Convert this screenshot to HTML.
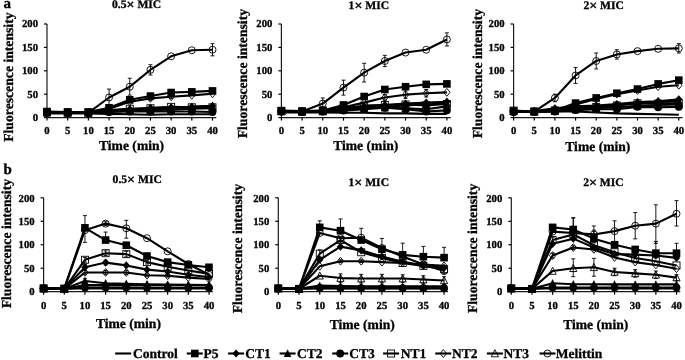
<!DOCTYPE html><html><head><meta charset="utf-8"><style>html,body{margin:0;padding:0;background:#fff;width:685px;height:360px;overflow:hidden}svg{display:block;will-change:transform}text{text-rendering:geometricPrecision;font-family:"Liberation Serif",serif;font-weight:bold;fill:#000}.tk{font-size:10.7px;stroke:#000;stroke-width:0.3px}.ti{font-size:11.6px;stroke:#000;stroke-width:0.3px}.lb{font-size:13.6px;stroke:#000;stroke-width:0.3px}.pl{font-size:15px;stroke:#000;stroke-width:0.3px}.yl{font-size:13.7px}.lg{font-size:13.5px;stroke:#000;stroke-width:0.3px}</style></head><body>
<svg width="685" height="360" viewBox="0 0 685 360">
<rect width="685" height="360" fill="#fff"/>
<text x="3.6" y="7.8" class="pl">a</text>
<text x="3.6" y="173.6" class="pl">b</text>
<line x1="47.0" y1="24.0" x2="47.0" y2="117.6" stroke="#1a1a1a" stroke-width="1.2"/>
<line x1="47.0" y1="117.6" x2="216.3" y2="117.6" stroke="#1a1a1a" stroke-width="1.2"/>
<line x1="44.0" y1="117.60" x2="47.0" y2="117.60" stroke="#000" stroke-width="1.2"/>
<text x="38.00" y="120.90" text-anchor="end" class="tk">0</text>
<line x1="44.0" y1="94.20" x2="47.0" y2="94.20" stroke="#000" stroke-width="1.2"/>
<text x="38.00" y="97.50" text-anchor="end" class="tk">50</text>
<line x1="44.0" y1="70.80" x2="47.0" y2="70.80" stroke="#000" stroke-width="1.2"/>
<text x="38.00" y="74.10" text-anchor="end" class="tk">100</text>
<line x1="44.0" y1="47.40" x2="47.0" y2="47.40" stroke="#000" stroke-width="1.2"/>
<text x="38.00" y="50.70" text-anchor="end" class="tk">150</text>
<line x1="44.0" y1="24.00" x2="47.0" y2="24.00" stroke="#000" stroke-width="1.2"/>
<text x="38.00" y="27.30" text-anchor="end" class="tk">200</text>
<line x1="47.00" y1="117.6" x2="47.00" y2="120.6" stroke="#000" stroke-width="1.2"/>
<text x="47.00" y="134.40" text-anchor="middle" class="tk">0</text>
<line x1="67.69" y1="117.6" x2="67.69" y2="120.6" stroke="#000" stroke-width="1.2"/>
<text x="67.69" y="134.40" text-anchor="middle" class="tk">5</text>
<line x1="88.38" y1="117.6" x2="88.38" y2="120.6" stroke="#000" stroke-width="1.2"/>
<text x="88.38" y="134.40" text-anchor="middle" class="tk">10</text>
<line x1="109.06" y1="117.6" x2="109.06" y2="120.6" stroke="#000" stroke-width="1.2"/>
<text x="109.06" y="134.40" text-anchor="middle" class="tk">15</text>
<line x1="129.75" y1="117.6" x2="129.75" y2="120.6" stroke="#000" stroke-width="1.2"/>
<text x="129.75" y="134.40" text-anchor="middle" class="tk">20</text>
<line x1="150.44" y1="117.6" x2="150.44" y2="120.6" stroke="#000" stroke-width="1.2"/>
<text x="150.44" y="134.40" text-anchor="middle" class="tk">25</text>
<line x1="171.12" y1="117.6" x2="171.12" y2="120.6" stroke="#000" stroke-width="1.2"/>
<text x="171.12" y="134.40" text-anchor="middle" class="tk">30</text>
<line x1="191.81" y1="117.6" x2="191.81" y2="120.6" stroke="#000" stroke-width="1.2"/>
<text x="191.81" y="134.40" text-anchor="middle" class="tk">35</text>
<line x1="212.50" y1="117.6" x2="212.50" y2="120.6" stroke="#000" stroke-width="1.2"/>
<text x="212.50" y="134.40" text-anchor="middle" class="tk">40</text>
<text x="112.0" y="8.0" class="ti">0.5<tspan dy="1.4" style="font-size:14px">×</tspan><tspan dy="-1.4"> MIC</tspan></text>
<text x="99.0" y="149.6" class="lb">Time (min)</text>
<text transform="translate(12.8,141.8) rotate(-90)" class="lb yl">Fluorescence intensity</text>
<line x1="281.4" y1="24.0" x2="281.4" y2="117.6" stroke="#1a1a1a" stroke-width="1.2"/>
<line x1="281.4" y1="117.6" x2="450.7" y2="117.6" stroke="#1a1a1a" stroke-width="1.2"/>
<line x1="278.4" y1="117.60" x2="281.4" y2="117.60" stroke="#000" stroke-width="1.2"/>
<text x="272.40" y="120.90" text-anchor="end" class="tk">0</text>
<line x1="278.4" y1="94.20" x2="281.4" y2="94.20" stroke="#000" stroke-width="1.2"/>
<text x="272.40" y="97.50" text-anchor="end" class="tk">50</text>
<line x1="278.4" y1="70.80" x2="281.4" y2="70.80" stroke="#000" stroke-width="1.2"/>
<text x="272.40" y="74.10" text-anchor="end" class="tk">100</text>
<line x1="278.4" y1="47.40" x2="281.4" y2="47.40" stroke="#000" stroke-width="1.2"/>
<text x="272.40" y="50.70" text-anchor="end" class="tk">150</text>
<line x1="278.4" y1="24.00" x2="281.4" y2="24.00" stroke="#000" stroke-width="1.2"/>
<text x="272.40" y="27.30" text-anchor="end" class="tk">200</text>
<line x1="281.40" y1="117.6" x2="281.40" y2="120.6" stroke="#000" stroke-width="1.2"/>
<text x="281.40" y="134.40" text-anchor="middle" class="tk">0</text>
<line x1="302.09" y1="117.6" x2="302.09" y2="120.6" stroke="#000" stroke-width="1.2"/>
<text x="302.09" y="134.40" text-anchor="middle" class="tk">5</text>
<line x1="322.77" y1="117.6" x2="322.77" y2="120.6" stroke="#000" stroke-width="1.2"/>
<text x="322.77" y="134.40" text-anchor="middle" class="tk">10</text>
<line x1="343.46" y1="117.6" x2="343.46" y2="120.6" stroke="#000" stroke-width="1.2"/>
<text x="343.46" y="134.40" text-anchor="middle" class="tk">15</text>
<line x1="364.15" y1="117.6" x2="364.15" y2="120.6" stroke="#000" stroke-width="1.2"/>
<text x="364.15" y="134.40" text-anchor="middle" class="tk">20</text>
<line x1="384.84" y1="117.6" x2="384.84" y2="120.6" stroke="#000" stroke-width="1.2"/>
<text x="384.84" y="134.40" text-anchor="middle" class="tk">25</text>
<line x1="405.52" y1="117.6" x2="405.52" y2="120.6" stroke="#000" stroke-width="1.2"/>
<text x="405.52" y="134.40" text-anchor="middle" class="tk">30</text>
<line x1="426.21" y1="117.6" x2="426.21" y2="120.6" stroke="#000" stroke-width="1.2"/>
<text x="426.21" y="134.40" text-anchor="middle" class="tk">35</text>
<line x1="446.90" y1="117.6" x2="446.90" y2="120.6" stroke="#000" stroke-width="1.2"/>
<text x="446.90" y="134.40" text-anchor="middle" class="tk">40</text>
<text x="348.6" y="8.8" class="ti">1<tspan dy="1.4" style="font-size:14px">×</tspan><tspan dy="-1.4"> MIC</tspan></text>
<text x="333.2" y="150.2" class="lb">Time (min)</text>
<text transform="translate(247.3,138.3) rotate(-90)" class="lb yl">Fluorescence intensity</text>
<line x1="513.6" y1="24.0" x2="513.6" y2="117.6" stroke="#1a1a1a" stroke-width="1.2"/>
<line x1="513.6" y1="117.6" x2="682.5999999999999" y2="117.6" stroke="#1a1a1a" stroke-width="1.2"/>
<line x1="510.6" y1="117.60" x2="513.6" y2="117.60" stroke="#000" stroke-width="1.2"/>
<text x="504.60" y="120.90" text-anchor="end" class="tk">0</text>
<line x1="510.6" y1="94.20" x2="513.6" y2="94.20" stroke="#000" stroke-width="1.2"/>
<text x="504.60" y="97.50" text-anchor="end" class="tk">50</text>
<line x1="510.6" y1="70.80" x2="513.6" y2="70.80" stroke="#000" stroke-width="1.2"/>
<text x="504.60" y="74.10" text-anchor="end" class="tk">100</text>
<line x1="510.6" y1="47.40" x2="513.6" y2="47.40" stroke="#000" stroke-width="1.2"/>
<text x="504.60" y="50.70" text-anchor="end" class="tk">150</text>
<line x1="510.6" y1="24.00" x2="513.6" y2="24.00" stroke="#000" stroke-width="1.2"/>
<text x="504.60" y="27.30" text-anchor="end" class="tk">200</text>
<line x1="513.60" y1="117.6" x2="513.60" y2="120.6" stroke="#000" stroke-width="1.2"/>
<text x="513.60" y="134.40" text-anchor="middle" class="tk">0</text>
<line x1="534.25" y1="117.6" x2="534.25" y2="120.6" stroke="#000" stroke-width="1.2"/>
<text x="534.25" y="134.40" text-anchor="middle" class="tk">5</text>
<line x1="554.90" y1="117.6" x2="554.90" y2="120.6" stroke="#000" stroke-width="1.2"/>
<text x="554.90" y="134.40" text-anchor="middle" class="tk">10</text>
<line x1="575.55" y1="117.6" x2="575.55" y2="120.6" stroke="#000" stroke-width="1.2"/>
<text x="575.55" y="134.40" text-anchor="middle" class="tk">15</text>
<line x1="596.20" y1="117.6" x2="596.20" y2="120.6" stroke="#000" stroke-width="1.2"/>
<text x="596.20" y="134.40" text-anchor="middle" class="tk">20</text>
<line x1="616.85" y1="117.6" x2="616.85" y2="120.6" stroke="#000" stroke-width="1.2"/>
<text x="616.85" y="134.40" text-anchor="middle" class="tk">25</text>
<line x1="637.50" y1="117.6" x2="637.50" y2="120.6" stroke="#000" stroke-width="1.2"/>
<text x="637.50" y="134.40" text-anchor="middle" class="tk">30</text>
<line x1="658.15" y1="117.6" x2="658.15" y2="120.6" stroke="#000" stroke-width="1.2"/>
<text x="658.15" y="134.40" text-anchor="middle" class="tk">35</text>
<line x1="678.80" y1="117.6" x2="678.80" y2="120.6" stroke="#000" stroke-width="1.2"/>
<text x="678.80" y="134.40" text-anchor="middle" class="tk">40</text>
<text x="583.4" y="8.8" class="ti">2<tspan dy="1.4" style="font-size:14px">×</tspan><tspan dy="-1.4"> MIC</tspan></text>
<text x="565.3" y="150.8" class="lb">Time (min)</text>
<text transform="translate(482.0,138.3) rotate(-90)" class="lb yl">Fluorescence intensity</text>
<line x1="43.6" y1="197.8" x2="43.6" y2="291.7" stroke="#1a1a1a" stroke-width="1.2"/>
<line x1="43.6" y1="291.7" x2="212.8" y2="291.7" stroke="#1a1a1a" stroke-width="1.2"/>
<line x1="40.6" y1="291.70" x2="43.6" y2="291.70" stroke="#000" stroke-width="1.2"/>
<text x="34.60" y="295.40" text-anchor="end" class="tk">0</text>
<line x1="40.6" y1="268.23" x2="43.6" y2="268.23" stroke="#000" stroke-width="1.2"/>
<text x="34.60" y="271.93" text-anchor="end" class="tk">50</text>
<line x1="40.6" y1="244.75" x2="43.6" y2="244.75" stroke="#000" stroke-width="1.2"/>
<text x="34.60" y="248.45" text-anchor="end" class="tk">100</text>
<line x1="40.6" y1="221.28" x2="43.6" y2="221.28" stroke="#000" stroke-width="1.2"/>
<text x="34.60" y="224.97" text-anchor="end" class="tk">150</text>
<line x1="40.6" y1="197.80" x2="43.6" y2="197.80" stroke="#000" stroke-width="1.2"/>
<text x="34.60" y="201.50" text-anchor="end" class="tk">200</text>
<line x1="43.60" y1="291.7" x2="43.60" y2="294.7" stroke="#000" stroke-width="1.2"/>
<text x="43.60" y="309.10" text-anchor="middle" class="tk">0</text>
<line x1="64.28" y1="291.7" x2="64.28" y2="294.7" stroke="#000" stroke-width="1.2"/>
<text x="64.28" y="309.10" text-anchor="middle" class="tk">5</text>
<line x1="84.95" y1="291.7" x2="84.95" y2="294.7" stroke="#000" stroke-width="1.2"/>
<text x="84.95" y="309.10" text-anchor="middle" class="tk">10</text>
<line x1="105.62" y1="291.7" x2="105.62" y2="294.7" stroke="#000" stroke-width="1.2"/>
<text x="105.62" y="309.10" text-anchor="middle" class="tk">15</text>
<line x1="126.30" y1="291.7" x2="126.30" y2="294.7" stroke="#000" stroke-width="1.2"/>
<text x="126.30" y="309.10" text-anchor="middle" class="tk">20</text>
<line x1="146.97" y1="291.7" x2="146.97" y2="294.7" stroke="#000" stroke-width="1.2"/>
<text x="146.97" y="309.10" text-anchor="middle" class="tk">25</text>
<line x1="167.65" y1="291.7" x2="167.65" y2="294.7" stroke="#000" stroke-width="1.2"/>
<text x="167.65" y="309.10" text-anchor="middle" class="tk">30</text>
<line x1="188.32" y1="291.7" x2="188.32" y2="294.7" stroke="#000" stroke-width="1.2"/>
<text x="188.32" y="309.10" text-anchor="middle" class="tk">35</text>
<line x1="209.00" y1="291.7" x2="209.00" y2="294.7" stroke="#000" stroke-width="1.2"/>
<text x="209.00" y="309.10" text-anchor="middle" class="tk">40</text>
<text x="112.6" y="182.8" class="ti">0.5<tspan dy="1.4" style="font-size:14px">×</tspan><tspan dy="-1.4"> MIC</tspan></text>
<text x="95.9" y="328.3" class="lb">Time (min)</text>
<text transform="translate(10.8,308.3) rotate(-90)" class="lb yl">Fluorescence intensity</text>
<line x1="278.3" y1="197.8" x2="278.3" y2="291.7" stroke="#1a1a1a" stroke-width="1.2"/>
<line x1="278.3" y1="291.7" x2="447.90000000000003" y2="291.7" stroke="#1a1a1a" stroke-width="1.2"/>
<line x1="275.3" y1="291.70" x2="278.3" y2="291.70" stroke="#000" stroke-width="1.2"/>
<text x="269.30" y="295.40" text-anchor="end" class="tk">0</text>
<line x1="275.3" y1="268.23" x2="278.3" y2="268.23" stroke="#000" stroke-width="1.2"/>
<text x="269.30" y="271.93" text-anchor="end" class="tk">50</text>
<line x1="275.3" y1="244.75" x2="278.3" y2="244.75" stroke="#000" stroke-width="1.2"/>
<text x="269.30" y="248.45" text-anchor="end" class="tk">100</text>
<line x1="275.3" y1="221.28" x2="278.3" y2="221.28" stroke="#000" stroke-width="1.2"/>
<text x="269.30" y="224.97" text-anchor="end" class="tk">150</text>
<line x1="275.3" y1="197.80" x2="278.3" y2="197.80" stroke="#000" stroke-width="1.2"/>
<text x="269.30" y="201.50" text-anchor="end" class="tk">200</text>
<line x1="278.30" y1="291.7" x2="278.30" y2="294.7" stroke="#000" stroke-width="1.2"/>
<text x="278.30" y="309.10" text-anchor="middle" class="tk">0</text>
<line x1="299.03" y1="291.7" x2="299.03" y2="294.7" stroke="#000" stroke-width="1.2"/>
<text x="299.03" y="309.10" text-anchor="middle" class="tk">5</text>
<line x1="319.75" y1="291.7" x2="319.75" y2="294.7" stroke="#000" stroke-width="1.2"/>
<text x="319.75" y="309.10" text-anchor="middle" class="tk">10</text>
<line x1="340.48" y1="291.7" x2="340.48" y2="294.7" stroke="#000" stroke-width="1.2"/>
<text x="340.48" y="309.10" text-anchor="middle" class="tk">15</text>
<line x1="361.20" y1="291.7" x2="361.20" y2="294.7" stroke="#000" stroke-width="1.2"/>
<text x="361.20" y="309.10" text-anchor="middle" class="tk">20</text>
<line x1="381.93" y1="291.7" x2="381.93" y2="294.7" stroke="#000" stroke-width="1.2"/>
<text x="381.93" y="309.10" text-anchor="middle" class="tk">25</text>
<line x1="402.65" y1="291.7" x2="402.65" y2="294.7" stroke="#000" stroke-width="1.2"/>
<text x="402.65" y="309.10" text-anchor="middle" class="tk">30</text>
<line x1="423.38" y1="291.7" x2="423.38" y2="294.7" stroke="#000" stroke-width="1.2"/>
<text x="423.38" y="309.10" text-anchor="middle" class="tk">35</text>
<line x1="444.10" y1="291.7" x2="444.10" y2="294.7" stroke="#000" stroke-width="1.2"/>
<text x="444.10" y="309.10" text-anchor="middle" class="tk">40</text>
<text x="348.5" y="185.5" class="ti">1<tspan dy="1.4" style="font-size:14px">×</tspan><tspan dy="-1.4"> MIC</tspan></text>
<text x="329.7" y="329.1" class="lb">Time (min)</text>
<text transform="translate(242.2,313.3) rotate(-90)" class="lb yl">Fluorescence intensity</text>
<line x1="511.3" y1="197.8" x2="511.3" y2="291.7" stroke="#1a1a1a" stroke-width="1.2"/>
<line x1="511.3" y1="291.7" x2="680.3" y2="291.7" stroke="#1a1a1a" stroke-width="1.2"/>
<line x1="508.3" y1="291.70" x2="511.3" y2="291.70" stroke="#000" stroke-width="1.2"/>
<text x="502.30" y="295.40" text-anchor="end" class="tk">0</text>
<line x1="508.3" y1="268.23" x2="511.3" y2="268.23" stroke="#000" stroke-width="1.2"/>
<text x="502.30" y="271.93" text-anchor="end" class="tk">50</text>
<line x1="508.3" y1="244.75" x2="511.3" y2="244.75" stroke="#000" stroke-width="1.2"/>
<text x="502.30" y="248.45" text-anchor="end" class="tk">100</text>
<line x1="508.3" y1="221.28" x2="511.3" y2="221.28" stroke="#000" stroke-width="1.2"/>
<text x="502.30" y="224.97" text-anchor="end" class="tk">150</text>
<line x1="508.3" y1="197.80" x2="511.3" y2="197.80" stroke="#000" stroke-width="1.2"/>
<text x="502.30" y="201.50" text-anchor="end" class="tk">200</text>
<line x1="511.30" y1="291.7" x2="511.30" y2="294.7" stroke="#000" stroke-width="1.2"/>
<text x="511.30" y="309.10" text-anchor="middle" class="tk">0</text>
<line x1="531.95" y1="291.7" x2="531.95" y2="294.7" stroke="#000" stroke-width="1.2"/>
<text x="531.95" y="309.10" text-anchor="middle" class="tk">5</text>
<line x1="552.60" y1="291.7" x2="552.60" y2="294.7" stroke="#000" stroke-width="1.2"/>
<text x="552.60" y="309.10" text-anchor="middle" class="tk">10</text>
<line x1="573.25" y1="291.7" x2="573.25" y2="294.7" stroke="#000" stroke-width="1.2"/>
<text x="573.25" y="309.10" text-anchor="middle" class="tk">15</text>
<line x1="593.90" y1="291.7" x2="593.90" y2="294.7" stroke="#000" stroke-width="1.2"/>
<text x="593.90" y="309.10" text-anchor="middle" class="tk">20</text>
<line x1="614.55" y1="291.7" x2="614.55" y2="294.7" stroke="#000" stroke-width="1.2"/>
<text x="614.55" y="309.10" text-anchor="middle" class="tk">25</text>
<line x1="635.20" y1="291.7" x2="635.20" y2="294.7" stroke="#000" stroke-width="1.2"/>
<text x="635.20" y="309.10" text-anchor="middle" class="tk">30</text>
<line x1="655.85" y1="291.7" x2="655.85" y2="294.7" stroke="#000" stroke-width="1.2"/>
<text x="655.85" y="309.10" text-anchor="middle" class="tk">35</text>
<line x1="676.50" y1="291.7" x2="676.50" y2="294.7" stroke="#000" stroke-width="1.2"/>
<text x="676.50" y="309.10" text-anchor="middle" class="tk">40</text>
<text x="583.2" y="185.5" class="ti">2<tspan dy="1.4" style="font-size:14px">×</tspan><tspan dy="-1.4"> MIC</tspan></text>
<text x="563.2" y="329.1" class="lb">Time (min)</text>
<text transform="translate(477.4,313.1) rotate(-90)" class="lb yl">Fluorescence intensity</text>
<polyline points="47.00,113.39 67.69,113.39 88.38,113.39 109.06,113.86 129.75,114.32 150.44,114.79 171.12,114.32 191.81,114.32 212.50,114.32" fill="none" stroke="#000" stroke-width="2.1" stroke-linejoin="round"/>
<path d="M129.75 97.94V101.69M127.75 97.94h4M127.75 101.69h4" stroke="#000" stroke-width="0.9" fill="none"/>
<polyline points="47.00,111.52 67.69,111.98 88.38,111.98 109.06,107.77 129.75,99.82 150.44,96.07 171.12,92.52 191.81,91.86 212.50,90.92" fill="none" stroke="#000" stroke-width="2.1" stroke-linejoin="round"/>
<rect x="43.20" y="107.72" width="7.60" height="7.60" fill="#000"/>
<rect x="63.89" y="108.18" width="7.60" height="7.60" fill="#000"/>
<rect x="84.58" y="108.18" width="7.60" height="7.60" fill="#000"/>
<rect x="105.26" y="103.97" width="7.60" height="7.60" fill="#000"/>
<rect x="125.95" y="96.02" width="7.60" height="7.60" fill="#000"/>
<rect x="146.64" y="92.27" width="7.60" height="7.60" fill="#000"/>
<rect x="167.32" y="88.72" width="7.60" height="7.60" fill="#000"/>
<rect x="188.01" y="88.06" width="7.60" height="7.60" fill="#000"/>
<rect x="208.70" y="87.12" width="7.60" height="7.60" fill="#000"/>
<polyline points="47.00,111.98 67.69,112.45 88.38,112.45 109.06,110.58 129.75,109.18 150.44,107.77 171.12,107.30 191.81,106.84 212.50,105.90" fill="none" stroke="#000" stroke-width="2.1" stroke-linejoin="round"/>
<path d="M47.00 107.88L50.70 111.98L47.00 116.08L43.30 111.98Z" fill="#000"/>
<path d="M67.69 108.35L71.39 112.45L67.69 116.55L63.99 112.45Z" fill="#000"/>
<path d="M88.38 108.35L92.08 112.45L88.38 116.55L84.67 112.45Z" fill="#000"/>
<path d="M109.06 106.48L112.76 110.58L109.06 114.68L105.36 110.58Z" fill="#000"/>
<path d="M129.75 105.08L133.45 109.18L129.75 113.28L126.05 109.18Z" fill="#000"/>
<path d="M150.44 103.67L154.14 107.77L150.44 111.87L146.74 107.77Z" fill="#000"/>
<path d="M171.12 103.20L174.82 107.30L171.12 111.40L167.43 107.30Z" fill="#000"/>
<path d="M191.81 102.74L195.51 106.84L191.81 110.94L188.11 106.84Z" fill="#000"/>
<path d="M212.50 101.80L216.20 105.90L212.50 110.00L208.80 105.90Z" fill="#000"/>
<polyline points="47.00,112.45 67.69,112.45 88.38,112.45 109.06,111.05 129.75,109.64 150.44,108.71 171.12,107.77 191.81,106.84 212.50,105.90" fill="none" stroke="#000" stroke-width="2.1" stroke-linejoin="round"/>
<path d="M47.00 108.25L50.80 116.05L43.20 116.05Z" fill="#000"/>
<path d="M67.69 108.25L71.49 116.05L63.89 116.05Z" fill="#000"/>
<path d="M88.38 108.25L92.17 116.05L84.58 116.05Z" fill="#000"/>
<path d="M109.06 106.85L112.86 114.65L105.26 114.65Z" fill="#000"/>
<path d="M129.75 105.44L133.55 113.24L125.95 113.24Z" fill="#000"/>
<path d="M150.44 104.51L154.24 112.31L146.64 112.31Z" fill="#000"/>
<path d="M171.12 103.57L174.93 111.37L167.32 111.37Z" fill="#000"/>
<path d="M191.81 102.64L195.61 110.44L188.01 110.44Z" fill="#000"/>
<path d="M212.50 101.70L216.30 109.50L208.70 109.50Z" fill="#000"/>
<polyline points="47.00,112.92 67.69,112.92 88.38,112.92 109.06,111.98 129.75,111.52 150.44,111.52 171.12,111.52 191.81,111.52 212.50,111.98" fill="none" stroke="#000" stroke-width="2.1" stroke-linejoin="round"/>
<circle cx="47.00" cy="112.92" r="3.90" fill="#000"/>
<circle cx="67.69" cy="112.92" r="3.90" fill="#000"/>
<circle cx="88.38" cy="112.92" r="3.90" fill="#000"/>
<circle cx="109.06" cy="111.98" r="3.90" fill="#000"/>
<circle cx="129.75" cy="111.52" r="3.90" fill="#000"/>
<circle cx="150.44" cy="111.52" r="3.90" fill="#000"/>
<circle cx="171.12" cy="111.52" r="3.90" fill="#000"/>
<circle cx="191.81" cy="111.52" r="3.90" fill="#000"/>
<circle cx="212.50" cy="111.98" r="3.90" fill="#000"/>
<polyline points="47.00,112.45 67.69,112.45 88.38,112.45 109.06,110.11 129.75,108.71 150.44,108.24 171.12,106.84 191.81,107.30 212.50,107.30" fill="none" stroke="#000" stroke-width="2.1" stroke-linejoin="round"/>
<rect x="43.50" y="108.95" width="7.00" height="7.00" fill="none" stroke="#000" stroke-width="0.9"/>
<rect x="64.19" y="108.95" width="7.00" height="7.00" fill="none" stroke="#000" stroke-width="0.9"/>
<rect x="84.88" y="108.95" width="7.00" height="7.00" fill="none" stroke="#000" stroke-width="0.9"/>
<rect x="105.56" y="106.61" width="7.00" height="7.00" fill="none" stroke="#000" stroke-width="0.9"/>
<rect x="126.25" y="105.21" width="7.00" height="7.00" fill="none" stroke="#000" stroke-width="0.9"/>
<rect x="146.94" y="104.74" width="7.00" height="7.00" fill="none" stroke="#000" stroke-width="0.9"/>
<rect x="167.62" y="103.34" width="7.00" height="7.00" fill="none" stroke="#000" stroke-width="0.9"/>
<rect x="188.31" y="103.80" width="7.00" height="7.00" fill="none" stroke="#000" stroke-width="0.9"/>
<rect x="209.00" y="103.80" width="7.00" height="7.00" fill="none" stroke="#000" stroke-width="0.9"/>
<path d="M150.44 96.54V100.28M148.44 96.54h4M148.44 100.28h4" stroke="#000" stroke-width="0.9" fill="none"/>
<path d="M171.12 94.90V98.65M169.12 94.90h4M169.12 98.65h4" stroke="#000" stroke-width="0.9" fill="none"/>
<polyline points="47.00,111.98 67.69,112.45 88.38,112.45 109.06,108.71 129.75,101.69 150.44,98.41 171.12,96.77 191.81,95.37 212.50,93.73" fill="none" stroke="#000" stroke-width="2.1" stroke-linejoin="round"/>
<path d="M47.00 108.08L50.20 111.98L47.00 115.88L43.80 111.98Z" fill="none" stroke="#000" stroke-width="0.9"/>
<path d="M67.69 108.55L70.89 112.45L67.69 116.35L64.49 112.45Z" fill="none" stroke="#000" stroke-width="0.9"/>
<path d="M88.38 108.55L91.58 112.45L88.38 116.35L85.17 112.45Z" fill="none" stroke="#000" stroke-width="0.9"/>
<path d="M109.06 104.81L112.26 108.71L109.06 112.61L105.86 108.71Z" fill="none" stroke="#000" stroke-width="0.9"/>
<path d="M129.75 97.79L132.95 101.69L129.75 105.59L126.55 101.69Z" fill="none" stroke="#000" stroke-width="0.9"/>
<path d="M150.44 94.51L153.64 98.41L150.44 102.31L147.24 98.41Z" fill="none" stroke="#000" stroke-width="0.9"/>
<path d="M171.12 92.87L174.32 96.77L171.12 100.67L167.93 96.77Z" fill="none" stroke="#000" stroke-width="0.9"/>
<path d="M191.81 91.47L195.01 95.37L191.81 99.27L188.61 95.37Z" fill="none" stroke="#000" stroke-width="0.9"/>
<path d="M212.50 89.83L215.70 93.73L212.50 97.63L209.30 93.73Z" fill="none" stroke="#000" stroke-width="0.9"/>
<polyline points="47.00,112.45 67.69,112.92 88.38,112.92 109.06,111.52 129.75,110.58 150.44,110.11 171.12,109.64 191.81,108.71 212.50,108.24" fill="none" stroke="#000" stroke-width="2.1" stroke-linejoin="round"/>
<path d="M47.00 108.65L50.60 115.75L43.40 115.75Z" fill="none" stroke="#000" stroke-width="0.9"/>
<path d="M67.69 109.12L71.29 116.22L64.09 116.22Z" fill="none" stroke="#000" stroke-width="0.9"/>
<path d="M88.38 109.12L91.97 116.22L84.78 116.22Z" fill="none" stroke="#000" stroke-width="0.9"/>
<path d="M109.06 107.72L112.66 114.82L105.46 114.82Z" fill="none" stroke="#000" stroke-width="0.9"/>
<path d="M129.75 106.78L133.35 113.88L126.15 113.88Z" fill="none" stroke="#000" stroke-width="0.9"/>
<path d="M150.44 106.31L154.04 113.41L146.84 113.41Z" fill="none" stroke="#000" stroke-width="0.9"/>
<path d="M171.12 105.84L174.72 112.94L167.53 112.94Z" fill="none" stroke="#000" stroke-width="0.9"/>
<path d="M191.81 104.91L195.41 112.01L188.21 112.01Z" fill="none" stroke="#000" stroke-width="0.9"/>
<path d="M212.50 104.44L216.10 111.54L208.90 111.54Z" fill="none" stroke="#000" stroke-width="0.9"/>
<path d="M109.06 89.05V105.90M107.06 89.05h4M107.06 105.90h4" stroke="#000" stroke-width="0.9" fill="none"/>
<path d="M129.75 78.29V95.14M127.75 78.29h4M127.75 95.14h4" stroke="#000" stroke-width="0.9" fill="none"/>
<path d="M150.44 64.72V75.01M148.44 64.72h4M148.44 75.01h4" stroke="#000" stroke-width="0.9" fill="none"/>
<path d="M212.50 43.66V55.82M210.50 43.66h4M210.50 55.82h4" stroke="#000" stroke-width="0.9" fill="none"/>
<polyline points="47.00,112.45 67.69,112.92 88.38,112.92 109.06,97.48 129.75,86.71 150.44,69.86 171.12,56.29 191.81,50.21 212.50,49.74" fill="none" stroke="#000" stroke-width="2.1" stroke-linejoin="round"/>
<circle cx="47.00" cy="112.45" r="3.50" fill="none" stroke="#000" stroke-width="0.9"/>
<circle cx="67.69" cy="112.92" r="3.50" fill="none" stroke="#000" stroke-width="0.9"/>
<circle cx="88.38" cy="112.92" r="3.50" fill="none" stroke="#000" stroke-width="0.9"/>
<circle cx="109.06" cy="97.48" r="3.50" fill="none" stroke="#000" stroke-width="0.9"/>
<circle cx="129.75" cy="86.71" r="3.50" fill="none" stroke="#000" stroke-width="0.9"/>
<circle cx="150.44" cy="69.86" r="3.50" fill="none" stroke="#000" stroke-width="0.9"/>
<circle cx="171.12" cy="56.29" r="3.50" fill="none" stroke="#000" stroke-width="0.9"/>
<circle cx="191.81" cy="50.21" r="3.50" fill="none" stroke="#000" stroke-width="0.9"/>
<circle cx="212.50" cy="49.74" r="3.50" fill="none" stroke="#000" stroke-width="0.9"/>
<polyline points="281.40,112.45 302.09,112.45 322.77,112.45 343.46,112.69 364.15,112.69 384.84,113.39 405.52,113.39 426.21,113.86 446.90,113.86" fill="none" stroke="#000" stroke-width="2.1" stroke-linejoin="round"/>
<polyline points="281.40,110.58 302.09,111.05 322.77,110.58 343.46,104.96 364.15,96.54 384.84,89.52 405.52,86.71 426.21,84.37 446.90,83.90" fill="none" stroke="#000" stroke-width="2.1" stroke-linejoin="round"/>
<rect x="277.60" y="106.78" width="7.60" height="7.60" fill="#000"/>
<rect x="298.29" y="107.25" width="7.60" height="7.60" fill="#000"/>
<rect x="318.97" y="106.78" width="7.60" height="7.60" fill="#000"/>
<rect x="339.66" y="101.16" width="7.60" height="7.60" fill="#000"/>
<rect x="360.35" y="92.74" width="7.60" height="7.60" fill="#000"/>
<rect x="381.04" y="85.72" width="7.60" height="7.60" fill="#000"/>
<rect x="401.72" y="82.91" width="7.60" height="7.60" fill="#000"/>
<rect x="422.41" y="80.57" width="7.60" height="7.60" fill="#000"/>
<rect x="443.10" y="80.10" width="7.60" height="7.60" fill="#000"/>
<polyline points="281.40,111.05 302.09,111.52 322.77,111.05 343.46,108.24 364.15,106.37 384.84,104.96 405.52,103.56 426.21,102.62 446.90,101.69" fill="none" stroke="#000" stroke-width="2.1" stroke-linejoin="round"/>
<path d="M281.40 106.95L285.10 111.05L281.40 115.15L277.70 111.05Z" fill="#000"/>
<path d="M302.09 107.42L305.79 111.52L302.09 115.62L298.39 111.52Z" fill="#000"/>
<path d="M322.77 106.95L326.47 111.05L322.77 115.15L319.07 111.05Z" fill="#000"/>
<path d="M343.46 104.14L347.16 108.24L343.46 112.34L339.76 108.24Z" fill="#000"/>
<path d="M364.15 102.27L367.85 106.37L364.15 110.47L360.45 106.37Z" fill="#000"/>
<path d="M384.84 100.86L388.54 104.96L384.84 109.06L381.14 104.96Z" fill="#000"/>
<path d="M405.52 99.46L409.22 103.56L405.52 107.66L401.82 103.56Z" fill="#000"/>
<path d="M426.21 98.52L429.91 102.62L426.21 106.72L422.51 102.62Z" fill="#000"/>
<path d="M446.90 97.59L450.60 101.69L446.90 105.79L443.20 101.69Z" fill="#000"/>
<polyline points="281.40,111.52 302.09,111.52 322.77,111.05 343.46,109.64 364.15,107.77 384.84,106.84 405.52,105.43 426.21,104.50 446.90,103.09" fill="none" stroke="#000" stroke-width="2.1" stroke-linejoin="round"/>
<path d="M281.40 107.32L285.20 115.12L277.60 115.12Z" fill="#000"/>
<path d="M302.09 107.32L305.89 115.12L298.29 115.12Z" fill="#000"/>
<path d="M322.77 106.85L326.57 114.65L318.97 114.65Z" fill="#000"/>
<path d="M343.46 105.44L347.26 113.24L339.66 113.24Z" fill="#000"/>
<path d="M364.15 103.57L367.95 111.37L360.35 111.37Z" fill="#000"/>
<path d="M384.84 102.64L388.64 110.44L381.04 110.44Z" fill="#000"/>
<path d="M405.52 101.23L409.32 109.03L401.72 109.03Z" fill="#000"/>
<path d="M426.21 100.30L430.01 108.10L422.41 108.10Z" fill="#000"/>
<path d="M446.90 98.89L450.70 106.69L443.10 106.69Z" fill="#000"/>
<polyline points="281.40,111.52 302.09,111.98 322.77,111.52 343.46,110.58 364.15,109.18 384.84,107.77 405.52,109.18 426.21,111.52 446.90,110.35" fill="none" stroke="#000" stroke-width="2.1" stroke-linejoin="round"/>
<circle cx="281.40" cy="111.52" r="3.90" fill="#000"/>
<circle cx="302.09" cy="111.98" r="3.90" fill="#000"/>
<circle cx="322.77" cy="111.52" r="3.90" fill="#000"/>
<circle cx="343.46" cy="110.58" r="3.90" fill="#000"/>
<circle cx="364.15" cy="109.18" r="3.90" fill="#000"/>
<circle cx="384.84" cy="107.77" r="3.90" fill="#000"/>
<circle cx="405.52" cy="109.18" r="3.90" fill="#000"/>
<circle cx="426.21" cy="111.52" r="3.90" fill="#000"/>
<circle cx="446.90" cy="110.35" r="3.90" fill="#000"/>
<polyline points="281.40,111.05 302.09,111.52 322.77,110.58 343.46,108.24 364.15,105.67 384.84,104.96 405.52,104.50 426.21,105.43 446.90,104.03" fill="none" stroke="#000" stroke-width="2.1" stroke-linejoin="round"/>
<rect x="277.90" y="107.55" width="7.00" height="7.00" fill="none" stroke="#000" stroke-width="0.9"/>
<rect x="298.59" y="108.02" width="7.00" height="7.00" fill="none" stroke="#000" stroke-width="0.9"/>
<rect x="319.27" y="107.08" width="7.00" height="7.00" fill="none" stroke="#000" stroke-width="0.9"/>
<rect x="339.96" y="104.74" width="7.00" height="7.00" fill="none" stroke="#000" stroke-width="0.9"/>
<rect x="360.65" y="102.17" width="7.00" height="7.00" fill="none" stroke="#000" stroke-width="0.9"/>
<rect x="381.34" y="101.46" width="7.00" height="7.00" fill="none" stroke="#000" stroke-width="0.9"/>
<rect x="402.02" y="101.00" width="7.00" height="7.00" fill="none" stroke="#000" stroke-width="0.9"/>
<rect x="422.71" y="101.93" width="7.00" height="7.00" fill="none" stroke="#000" stroke-width="0.9"/>
<rect x="443.40" y="100.53" width="7.00" height="7.00" fill="none" stroke="#000" stroke-width="0.9"/>
<path d="M384.84 94.67V100.28M382.84 94.67h4M382.84 100.28h4" stroke="#000" stroke-width="0.9" fill="none"/>
<path d="M405.52 90.92V98.41M403.52 90.92h4M403.52 98.41h4" stroke="#000" stroke-width="0.9" fill="none"/>
<path d="M426.21 89.52V97.01M424.21 89.52h4M424.21 97.01h4" stroke="#000" stroke-width="0.9" fill="none"/>
<polyline points="281.40,111.05 302.09,111.52 322.77,111.05 343.46,107.30 364.15,102.62 384.84,97.48 405.52,94.67 426.21,93.26 446.90,92.33" fill="none" stroke="#000" stroke-width="2.1" stroke-linejoin="round"/>
<path d="M281.40 107.15L284.60 111.05L281.40 114.95L278.20 111.05Z" fill="none" stroke="#000" stroke-width="0.9"/>
<path d="M302.09 107.62L305.29 111.52L302.09 115.42L298.89 111.52Z" fill="none" stroke="#000" stroke-width="0.9"/>
<path d="M322.77 107.15L325.97 111.05L322.77 114.95L319.57 111.05Z" fill="none" stroke="#000" stroke-width="0.9"/>
<path d="M343.46 103.40L346.66 107.30L343.46 111.20L340.26 107.30Z" fill="none" stroke="#000" stroke-width="0.9"/>
<path d="M364.15 98.72L367.35 102.62L364.15 106.52L360.95 102.62Z" fill="none" stroke="#000" stroke-width="0.9"/>
<path d="M384.84 93.58L388.04 97.48L384.84 101.38L381.64 97.48Z" fill="none" stroke="#000" stroke-width="0.9"/>
<path d="M405.52 90.77L408.72 94.67L405.52 98.57L402.32 94.67Z" fill="none" stroke="#000" stroke-width="0.9"/>
<path d="M426.21 89.36L429.41 93.26L426.21 97.16L423.01 93.26Z" fill="none" stroke="#000" stroke-width="0.9"/>
<path d="M446.90 88.43L450.10 92.33L446.90 96.23L443.70 92.33Z" fill="none" stroke="#000" stroke-width="0.9"/>
<polyline points="281.40,111.52 302.09,111.98 322.77,111.52 343.46,109.64 364.15,108.24 384.84,107.77 405.52,108.24 426.21,109.18 446.90,106.37" fill="none" stroke="#000" stroke-width="2.1" stroke-linejoin="round"/>
<path d="M281.40 107.72L285.00 114.82L277.80 114.82Z" fill="none" stroke="#000" stroke-width="0.9"/>
<path d="M302.09 108.18L305.69 115.28L298.49 115.28Z" fill="none" stroke="#000" stroke-width="0.9"/>
<path d="M322.77 107.72L326.38 114.82L319.17 114.82Z" fill="none" stroke="#000" stroke-width="0.9"/>
<path d="M343.46 105.84L347.06 112.94L339.86 112.94Z" fill="none" stroke="#000" stroke-width="0.9"/>
<path d="M364.15 104.44L367.75 111.54L360.55 111.54Z" fill="none" stroke="#000" stroke-width="0.9"/>
<path d="M384.84 103.97L388.44 111.07L381.24 111.07Z" fill="none" stroke="#000" stroke-width="0.9"/>
<path d="M405.52 104.44L409.12 111.54L401.92 111.54Z" fill="none" stroke="#000" stroke-width="0.9"/>
<path d="M426.21 105.38L429.81 112.48L422.61 112.48Z" fill="none" stroke="#000" stroke-width="0.9"/>
<path d="M446.90 102.57L450.50 109.67L443.30 109.67Z" fill="none" stroke="#000" stroke-width="0.9"/>
<path d="M322.77 97.94V109.18M320.77 97.94h4M320.77 109.18h4" stroke="#000" stroke-width="0.9" fill="none"/>
<path d="M343.46 80.16V95.14M341.46 80.16h4M341.46 95.14h4" stroke="#000" stroke-width="0.9" fill="none"/>
<path d="M364.15 63.31V82.03M362.15 63.31h4M362.15 82.03h4" stroke="#000" stroke-width="0.9" fill="none"/>
<path d="M384.84 55.36V66.59M382.84 55.36h4M382.84 66.59h4" stroke="#000" stroke-width="0.9" fill="none"/>
<path d="M446.90 32.89V46.00M444.90 32.89h4M444.90 46.00h4" stroke="#000" stroke-width="0.9" fill="none"/>
<polyline points="281.40,111.52 302.09,111.52 322.77,103.56 343.46,87.65 364.15,72.67 384.84,60.97 405.52,52.55 426.21,49.74 446.90,39.44" fill="none" stroke="#000" stroke-width="2.1" stroke-linejoin="round"/>
<circle cx="281.40" cy="111.52" r="3.50" fill="none" stroke="#000" stroke-width="0.9"/>
<circle cx="302.09" cy="111.52" r="3.50" fill="none" stroke="#000" stroke-width="0.9"/>
<circle cx="322.77" cy="103.56" r="3.50" fill="none" stroke="#000" stroke-width="0.9"/>
<circle cx="343.46" cy="87.65" r="3.50" fill="none" stroke="#000" stroke-width="0.9"/>
<circle cx="364.15" cy="72.67" r="3.50" fill="none" stroke="#000" stroke-width="0.9"/>
<circle cx="384.84" cy="60.97" r="3.50" fill="none" stroke="#000" stroke-width="0.9"/>
<circle cx="405.52" cy="52.55" r="3.50" fill="none" stroke="#000" stroke-width="0.9"/>
<circle cx="426.21" cy="49.74" r="3.50" fill="none" stroke="#000" stroke-width="0.9"/>
<circle cx="446.90" cy="39.44" r="3.50" fill="none" stroke="#000" stroke-width="0.9"/>
<polyline points="513.60,111.98 534.25,111.98 554.90,111.52 575.55,111.52 596.20,112.45 616.85,113.39 637.50,113.86 658.15,114.32 678.80,114.79" fill="none" stroke="#000" stroke-width="2.1" stroke-linejoin="round"/>
<path d="M637.50 86.71V91.39M635.50 86.71h4M635.50 91.39h4" stroke="#000" stroke-width="0.9" fill="none"/>
<path d="M658.15 81.56V86.24M656.15 81.56h4M656.15 86.24h4" stroke="#000" stroke-width="0.9" fill="none"/>
<path d="M678.80 77.82V82.50M676.80 77.82h4M676.80 82.50h4" stroke="#000" stroke-width="0.9" fill="none"/>
<polyline points="513.60,111.05 534.25,111.52 554.90,110.58 575.55,103.09 596.20,97.94 616.85,93.26 637.50,89.05 658.15,83.90 678.80,80.16" fill="none" stroke="#000" stroke-width="2.1" stroke-linejoin="round"/>
<rect x="509.80" y="107.25" width="7.60" height="7.60" fill="#000"/>
<rect x="530.45" y="107.72" width="7.60" height="7.60" fill="#000"/>
<rect x="551.10" y="106.78" width="7.60" height="7.60" fill="#000"/>
<rect x="571.75" y="99.29" width="7.60" height="7.60" fill="#000"/>
<rect x="592.40" y="94.14" width="7.60" height="7.60" fill="#000"/>
<rect x="613.05" y="89.46" width="7.60" height="7.60" fill="#000"/>
<rect x="633.70" y="85.25" width="7.60" height="7.60" fill="#000"/>
<rect x="654.35" y="80.10" width="7.60" height="7.60" fill="#000"/>
<rect x="675.00" y="76.36" width="7.60" height="7.60" fill="#000"/>
<polyline points="513.60,111.05 534.25,111.05 554.90,108.24 575.55,106.37 596.20,105.43 616.85,104.03 637.50,102.16 658.15,101.22 678.80,99.35" fill="none" stroke="#000" stroke-width="2.1" stroke-linejoin="round"/>
<path d="M513.60 106.95L517.30 111.05L513.60 115.15L509.90 111.05Z" fill="#000"/>
<path d="M534.25 106.95L537.95 111.05L534.25 115.15L530.55 111.05Z" fill="#000"/>
<path d="M554.90 104.14L558.60 108.24L554.90 112.34L551.20 108.24Z" fill="#000"/>
<path d="M575.55 102.27L579.25 106.37L575.55 110.47L571.85 106.37Z" fill="#000"/>
<path d="M596.20 101.33L599.90 105.43L596.20 109.53L592.50 105.43Z" fill="#000"/>
<path d="M616.85 99.93L620.55 104.03L616.85 108.13L613.15 104.03Z" fill="#000"/>
<path d="M637.50 98.06L641.20 102.16L637.50 106.26L633.80 102.16Z" fill="#000"/>
<path d="M658.15 97.12L661.85 101.22L658.15 105.32L654.45 101.22Z" fill="#000"/>
<path d="M678.80 95.25L682.50 99.35L678.80 103.45L675.10 99.35Z" fill="#000"/>
<polyline points="513.60,111.52 534.25,111.52 554.90,110.58 575.55,107.77 596.20,106.84 616.85,104.96 637.50,103.56 658.15,102.16 678.80,100.75" fill="none" stroke="#000" stroke-width="2.1" stroke-linejoin="round"/>
<path d="M513.60 107.32L517.40 115.12L509.80 115.12Z" fill="#000"/>
<path d="M534.25 107.32L538.05 115.12L530.45 115.12Z" fill="#000"/>
<path d="M554.90 106.38L558.70 114.18L551.10 114.18Z" fill="#000"/>
<path d="M575.55 103.57L579.35 111.37L571.75 111.37Z" fill="#000"/>
<path d="M596.20 102.64L600.00 110.44L592.40 110.44Z" fill="#000"/>
<path d="M616.85 100.76L620.65 108.56L613.05 108.56Z" fill="#000"/>
<path d="M637.50 99.36L641.30 107.16L633.70 107.16Z" fill="#000"/>
<path d="M658.15 97.96L661.95 105.76L654.35 105.76Z" fill="#000"/>
<path d="M678.80 96.55L682.60 104.35L675.00 104.35Z" fill="#000"/>
<polyline points="513.60,111.98 534.25,111.98 554.90,111.52 575.55,110.11 596.20,109.18 616.85,109.18 637.50,106.84 658.15,107.30 678.80,106.84" fill="none" stroke="#000" stroke-width="2.1" stroke-linejoin="round"/>
<circle cx="513.60" cy="111.98" r="3.90" fill="#000"/>
<circle cx="534.25" cy="111.98" r="3.90" fill="#000"/>
<circle cx="554.90" cy="111.52" r="3.90" fill="#000"/>
<circle cx="575.55" cy="110.11" r="3.90" fill="#000"/>
<circle cx="596.20" cy="109.18" r="3.90" fill="#000"/>
<circle cx="616.85" cy="109.18" r="3.90" fill="#000"/>
<circle cx="637.50" cy="106.84" r="3.90" fill="#000"/>
<circle cx="658.15" cy="107.30" r="3.90" fill="#000"/>
<circle cx="678.80" cy="106.84" r="3.90" fill="#000"/>
<polyline points="513.60,110.58 534.25,111.52 554.90,110.58 575.55,108.24 596.20,106.84 616.85,105.43 637.50,103.28 658.15,103.56 678.80,103.09" fill="none" stroke="#000" stroke-width="2.1" stroke-linejoin="round"/>
<rect x="510.10" y="107.08" width="7.00" height="7.00" fill="none" stroke="#000" stroke-width="0.9"/>
<rect x="530.75" y="108.02" width="7.00" height="7.00" fill="none" stroke="#000" stroke-width="0.9"/>
<rect x="551.40" y="107.08" width="7.00" height="7.00" fill="none" stroke="#000" stroke-width="0.9"/>
<rect x="572.05" y="104.74" width="7.00" height="7.00" fill="none" stroke="#000" stroke-width="0.9"/>
<rect x="592.70" y="103.34" width="7.00" height="7.00" fill="none" stroke="#000" stroke-width="0.9"/>
<rect x="613.35" y="101.93" width="7.00" height="7.00" fill="none" stroke="#000" stroke-width="0.9"/>
<rect x="634.00" y="99.78" width="7.00" height="7.00" fill="none" stroke="#000" stroke-width="0.9"/>
<rect x="654.65" y="100.06" width="7.00" height="7.00" fill="none" stroke="#000" stroke-width="0.9"/>
<rect x="675.30" y="99.59" width="7.00" height="7.00" fill="none" stroke="#000" stroke-width="0.9"/>
<polyline points="513.60,111.52 534.25,111.52 554.90,110.58 575.55,104.50 596.20,98.88 616.85,94.20 637.50,90.46 658.15,86.71 678.80,85.31" fill="none" stroke="#000" stroke-width="2.1" stroke-linejoin="round"/>
<path d="M513.60 107.62L516.80 111.52L513.60 115.42L510.40 111.52Z" fill="none" stroke="#000" stroke-width="0.9"/>
<path d="M534.25 107.62L537.45 111.52L534.25 115.42L531.05 111.52Z" fill="none" stroke="#000" stroke-width="0.9"/>
<path d="M554.90 106.68L558.10 110.58L554.90 114.48L551.70 110.58Z" fill="none" stroke="#000" stroke-width="0.9"/>
<path d="M575.55 100.60L578.75 104.50L575.55 108.40L572.35 104.50Z" fill="none" stroke="#000" stroke-width="0.9"/>
<path d="M596.20 94.98L599.40 98.88L596.20 102.78L593.00 98.88Z" fill="none" stroke="#000" stroke-width="0.9"/>
<path d="M616.85 90.30L620.05 94.20L616.85 98.10L613.65 94.20Z" fill="none" stroke="#000" stroke-width="0.9"/>
<path d="M637.50 86.56L640.70 90.46L637.50 94.36L634.30 90.46Z" fill="none" stroke="#000" stroke-width="0.9"/>
<path d="M658.15 82.81L661.35 86.71L658.15 90.61L654.95 86.71Z" fill="none" stroke="#000" stroke-width="0.9"/>
<path d="M678.80 81.41L682.00 85.31L678.80 89.21L675.60 85.31Z" fill="none" stroke="#000" stroke-width="0.9"/>
<polyline points="513.60,111.52 534.25,111.52 554.90,111.05 575.55,109.64 596.20,108.24 616.85,107.30 637.50,105.90 658.15,104.96 678.80,104.50" fill="none" stroke="#000" stroke-width="2.1" stroke-linejoin="round"/>
<path d="M513.60 107.72L517.20 114.82L510.00 114.82Z" fill="none" stroke="#000" stroke-width="0.9"/>
<path d="M534.25 107.72L537.85 114.82L530.65 114.82Z" fill="none" stroke="#000" stroke-width="0.9"/>
<path d="M554.90 107.25L558.50 114.35L551.30 114.35Z" fill="none" stroke="#000" stroke-width="0.9"/>
<path d="M575.55 105.84L579.15 112.94L571.95 112.94Z" fill="none" stroke="#000" stroke-width="0.9"/>
<path d="M596.20 104.44L599.80 111.54L592.60 111.54Z" fill="none" stroke="#000" stroke-width="0.9"/>
<path d="M616.85 103.50L620.45 110.60L613.25 110.60Z" fill="none" stroke="#000" stroke-width="0.9"/>
<path d="M637.50 102.10L641.10 109.20L633.90 109.20Z" fill="none" stroke="#000" stroke-width="0.9"/>
<path d="M658.15 101.16L661.75 108.26L654.55 108.26Z" fill="none" stroke="#000" stroke-width="0.9"/>
<path d="M678.80 100.70L682.40 107.80L675.20 107.80Z" fill="none" stroke="#000" stroke-width="0.9"/>
<path d="M554.90 94.20V101.69M552.90 94.20h4M552.90 101.69h4" stroke="#000" stroke-width="0.9" fill="none"/>
<path d="M575.55 67.52V83.44M573.55 67.52h4M573.55 83.44h4" stroke="#000" stroke-width="0.9" fill="none"/>
<path d="M596.20 53.02V68.93M594.20 53.02h4M594.20 68.93h4" stroke="#000" stroke-width="0.9" fill="none"/>
<path d="M616.85 49.74V59.10M614.85 49.74h4M614.85 59.10h4" stroke="#000" stroke-width="0.9" fill="none"/>
<path d="M678.80 43.66V53.02M676.80 43.66h4M676.80 53.02h4" stroke="#000" stroke-width="0.9" fill="none"/>
<polyline points="513.60,111.05 534.25,111.52 554.90,97.94 575.55,75.48 596.20,60.97 616.85,54.42 637.50,51.14 658.15,48.80 678.80,48.34" fill="none" stroke="#000" stroke-width="2.1" stroke-linejoin="round"/>
<circle cx="513.60" cy="111.05" r="3.50" fill="none" stroke="#000" stroke-width="0.9"/>
<circle cx="534.25" cy="111.52" r="3.50" fill="none" stroke="#000" stroke-width="0.9"/>
<circle cx="554.90" cy="97.94" r="3.50" fill="none" stroke="#000" stroke-width="0.9"/>
<circle cx="575.55" cy="75.48" r="3.50" fill="none" stroke="#000" stroke-width="0.9"/>
<circle cx="596.20" cy="60.97" r="3.50" fill="none" stroke="#000" stroke-width="0.9"/>
<circle cx="616.85" cy="54.42" r="3.50" fill="none" stroke="#000" stroke-width="0.9"/>
<circle cx="637.50" cy="51.14" r="3.50" fill="none" stroke="#000" stroke-width="0.9"/>
<circle cx="658.15" cy="48.80" r="3.50" fill="none" stroke="#000" stroke-width="0.9"/>
<circle cx="678.80" cy="48.34" r="3.50" fill="none" stroke="#000" stroke-width="0.9"/>
<polyline points="43.60,288.41 64.28,288.41 84.95,288.41 105.62,288.41 126.30,288.41 146.97,288.41 167.65,288.41 188.32,288.41 209.00,288.41" fill="none" stroke="#000" stroke-width="2.1" stroke-linejoin="round"/>
<path d="M105.62 232.07V240.06M103.62 232.07h4M103.62 240.06h4" stroke="#000" stroke-width="0.9" fill="none"/>
<polyline points="43.60,288.41 64.28,288.41 84.95,227.85 105.62,240.06 126.30,245.22 146.97,256.02 167.65,262.12 188.32,264.94 209.00,267.29" fill="none" stroke="#000" stroke-width="2.1" stroke-linejoin="round"/>
<rect x="39.80" y="284.61" width="7.60" height="7.60" fill="#000"/>
<rect x="60.48" y="284.61" width="7.60" height="7.60" fill="#000"/>
<rect x="81.15" y="224.05" width="7.60" height="7.60" fill="#000"/>
<rect x="101.83" y="236.25" width="7.60" height="7.60" fill="#000"/>
<rect x="122.50" y="241.42" width="7.60" height="7.60" fill="#000"/>
<rect x="143.17" y="252.22" width="7.60" height="7.60" fill="#000"/>
<rect x="163.85" y="258.32" width="7.60" height="7.60" fill="#000"/>
<rect x="184.52" y="261.14" width="7.60" height="7.60" fill="#000"/>
<rect x="205.20" y="263.49" width="7.60" height="7.60" fill="#000"/>
<path d="M84.95 264.47V270.10M82.95 264.47h4M82.95 270.10h4" stroke="#000" stroke-width="0.9" fill="none"/>
<path d="M105.62 260.24V264.94M103.62 260.24h4M103.62 264.94h4" stroke="#000" stroke-width="0.9" fill="none"/>
<polyline points="43.60,288.41 64.28,288.88 84.95,267.29 105.62,262.59 126.30,265.41 146.97,269.63 167.65,271.51 188.32,274.80 209.00,277.15" fill="none" stroke="#000" stroke-width="2.1" stroke-linejoin="round"/>
<path d="M43.60 284.31L47.30 288.41L43.60 292.51L39.90 288.41Z" fill="#000"/>
<path d="M64.28 284.78L67.98 288.88L64.28 292.98L60.58 288.88Z" fill="#000"/>
<path d="M84.95 263.19L88.65 267.29L84.95 271.39L81.25 267.29Z" fill="#000"/>
<path d="M105.62 258.49L109.33 262.59L105.62 266.69L101.92 262.59Z" fill="#000"/>
<path d="M126.30 261.31L130.00 265.41L126.30 269.51L122.60 265.41Z" fill="#000"/>
<path d="M146.97 265.53L150.67 269.63L146.97 273.73L143.28 269.63Z" fill="#000"/>
<path d="M167.65 267.41L171.35 271.51L167.65 275.61L163.95 271.51Z" fill="#000"/>
<path d="M188.32 270.70L192.02 274.80L188.32 278.90L184.62 274.80Z" fill="#000"/>
<path d="M209.00 273.05L212.70 277.15L209.00 281.25L205.30 277.15Z" fill="#000"/>
<path d="M84.95 278.69V283.39M82.95 278.69h4M82.95 283.39h4" stroke="#000" stroke-width="0.9" fill="none"/>
<polyline points="43.60,288.41 64.28,288.88 84.95,281.04 105.62,283.25 126.30,283.72 146.97,284.19 167.65,284.66 188.32,284.89 209.00,285.13" fill="none" stroke="#000" stroke-width="2.1" stroke-linejoin="round"/>
<path d="M43.60 284.21L47.40 292.01L39.80 292.01Z" fill="#000"/>
<path d="M64.28 284.68L68.08 292.48L60.48 292.48Z" fill="#000"/>
<path d="M84.95 276.84L88.75 284.64L81.15 284.64Z" fill="#000"/>
<path d="M105.62 279.05L109.42 286.85L101.83 286.85Z" fill="#000"/>
<path d="M126.30 279.52L130.10 287.32L122.50 287.32Z" fill="#000"/>
<path d="M146.97 279.99L150.78 287.79L143.17 287.79Z" fill="#000"/>
<path d="M167.65 280.46L171.45 288.26L163.85 288.26Z" fill="#000"/>
<path d="M188.32 280.69L192.12 288.49L184.52 288.49Z" fill="#000"/>
<path d="M209.00 280.93L212.80 288.73L205.20 288.73Z" fill="#000"/>
<polyline points="43.60,288.41 64.28,288.88 84.95,287.47 105.62,287.47 126.30,287.47 146.97,287.71 167.65,287.71 188.32,287.71 209.00,287.71" fill="none" stroke="#000" stroke-width="2.1" stroke-linejoin="round"/>
<circle cx="43.60" cy="288.41" r="3.90" fill="#000"/>
<circle cx="64.28" cy="288.88" r="3.90" fill="#000"/>
<circle cx="84.95" cy="287.47" r="3.90" fill="#000"/>
<circle cx="105.62" cy="287.47" r="3.90" fill="#000"/>
<circle cx="126.30" cy="287.47" r="3.90" fill="#000"/>
<circle cx="146.97" cy="287.71" r="3.90" fill="#000"/>
<circle cx="167.65" cy="287.71" r="3.90" fill="#000"/>
<circle cx="188.32" cy="287.71" r="3.90" fill="#000"/>
<circle cx="209.00" cy="287.71" r="3.90" fill="#000"/>
<path d="M84.95 257.43V262.12M82.95 257.43h4M82.95 262.12h4" stroke="#000" stroke-width="0.9" fill="none"/>
<path d="M105.62 250.85V255.55M103.62 250.85h4M103.62 255.55h4" stroke="#000" stroke-width="0.9" fill="none"/>
<path d="M126.30 251.32V256.96M124.30 251.32h4M124.30 256.96h4" stroke="#000" stroke-width="0.9" fill="none"/>
<path d="M146.97 260.24V264.00M144.97 260.24h4M144.97 264.00h4" stroke="#000" stroke-width="0.9" fill="none"/>
<polyline points="43.60,288.41 64.28,288.88 84.95,259.77 105.62,253.20 126.30,254.14 146.97,262.12 167.65,266.82 188.32,270.57 209.00,273.86" fill="none" stroke="#000" stroke-width="2.1" stroke-linejoin="round"/>
<rect x="40.10" y="284.91" width="7.00" height="7.00" fill="none" stroke="#000" stroke-width="0.9"/>
<rect x="60.78" y="285.38" width="7.00" height="7.00" fill="none" stroke="#000" stroke-width="0.9"/>
<rect x="81.45" y="256.27" width="7.00" height="7.00" fill="none" stroke="#000" stroke-width="0.9"/>
<rect x="102.12" y="249.70" width="7.00" height="7.00" fill="none" stroke="#000" stroke-width="0.9"/>
<rect x="122.80" y="250.64" width="7.00" height="7.00" fill="none" stroke="#000" stroke-width="0.9"/>
<rect x="143.47" y="258.62" width="7.00" height="7.00" fill="none" stroke="#000" stroke-width="0.9"/>
<rect x="164.15" y="263.32" width="7.00" height="7.00" fill="none" stroke="#000" stroke-width="0.9"/>
<rect x="184.82" y="267.07" width="7.00" height="7.00" fill="none" stroke="#000" stroke-width="0.9"/>
<rect x="205.50" y="270.36" width="7.00" height="7.00" fill="none" stroke="#000" stroke-width="0.9"/>
<path d="M84.95 270.57V274.33M82.95 270.57h4M82.95 274.33h4" stroke="#000" stroke-width="0.9" fill="none"/>
<path d="M105.62 270.57V274.33M103.62 270.57h4M103.62 274.33h4" stroke="#000" stroke-width="0.9" fill="none"/>
<path d="M126.30 270.57V274.33M124.30 270.57h4M124.30 274.33h4" stroke="#000" stroke-width="0.9" fill="none"/>
<path d="M146.97 273.86V276.68M144.97 273.86h4M144.97 276.68h4" stroke="#000" stroke-width="0.9" fill="none"/>
<path d="M167.65 274.33V277.15M165.65 274.33h4M165.65 277.15h4" stroke="#000" stroke-width="0.9" fill="none"/>
<polyline points="43.60,288.41 64.28,288.88 84.95,272.45 105.62,272.45 126.30,272.45 146.97,275.27 167.65,275.74 188.32,277.62 209.00,279.02" fill="none" stroke="#000" stroke-width="2.1" stroke-linejoin="round"/>
<path d="M43.60 284.51L46.80 288.41L43.60 292.31L40.40 288.41Z" fill="none" stroke="#000" stroke-width="0.9"/>
<path d="M64.28 284.98L67.48 288.88L64.28 292.78L61.08 288.88Z" fill="none" stroke="#000" stroke-width="0.9"/>
<path d="M84.95 268.55L88.15 272.45L84.95 276.35L81.75 272.45Z" fill="none" stroke="#000" stroke-width="0.9"/>
<path d="M105.62 268.55L108.83 272.45L105.62 276.35L102.42 272.45Z" fill="none" stroke="#000" stroke-width="0.9"/>
<path d="M126.30 268.55L129.50 272.45L126.30 276.35L123.10 272.45Z" fill="none" stroke="#000" stroke-width="0.9"/>
<path d="M146.97 271.37L150.17 275.27L146.97 279.17L143.78 275.27Z" fill="none" stroke="#000" stroke-width="0.9"/>
<path d="M167.65 271.84L170.85 275.74L167.65 279.64L164.45 275.74Z" fill="none" stroke="#000" stroke-width="0.9"/>
<path d="M188.32 273.72L191.52 277.62L188.32 281.51L185.12 277.62Z" fill="none" stroke="#000" stroke-width="0.9"/>
<path d="M209.00 275.12L212.20 279.02L209.00 282.92L205.80 279.02Z" fill="none" stroke="#000" stroke-width="0.9"/>
<polyline points="43.60,288.41 64.28,288.88 84.95,285.13 105.62,285.13 126.30,285.13 146.97,285.13 167.65,285.13 188.32,285.13 209.00,285.13" fill="none" stroke="#000" stroke-width="2.1" stroke-linejoin="round"/>
<path d="M43.60 284.61L47.20 291.71L40.00 291.71Z" fill="none" stroke="#000" stroke-width="0.9"/>
<path d="M64.28 285.08L67.88 292.18L60.68 292.18Z" fill="none" stroke="#000" stroke-width="0.9"/>
<path d="M84.95 281.33L88.55 288.43L81.35 288.43Z" fill="none" stroke="#000" stroke-width="0.9"/>
<path d="M105.62 281.33L109.22 288.43L102.03 288.43Z" fill="none" stroke="#000" stroke-width="0.9"/>
<path d="M126.30 281.33L129.90 288.43L122.70 288.43Z" fill="none" stroke="#000" stroke-width="0.9"/>
<path d="M146.97 281.33L150.57 288.43L143.38 288.43Z" fill="none" stroke="#000" stroke-width="0.9"/>
<path d="M167.65 281.33L171.25 288.43L164.05 288.43Z" fill="none" stroke="#000" stroke-width="0.9"/>
<path d="M188.32 281.33L191.92 288.43L184.72 288.43Z" fill="none" stroke="#000" stroke-width="0.9"/>
<path d="M209.00 281.33L212.60 288.43L205.40 288.43Z" fill="none" stroke="#000" stroke-width="0.9"/>
<path d="M84.95 215.64V242.40M82.95 215.64h4M82.95 242.40h4" stroke="#000" stroke-width="0.9" fill="none"/>
<path d="M105.62 221.74V225.50M103.62 221.74h4M103.62 225.50h4" stroke="#000" stroke-width="0.9" fill="none"/>
<path d="M126.30 220.34V238.18M124.30 220.34h4M124.30 238.18h4" stroke="#000" stroke-width="0.9" fill="none"/>
<polyline points="43.60,288.41 64.28,288.88 84.95,230.20 105.62,223.62 126.30,228.32 146.97,238.18 167.65,251.32 188.32,264.00 209.00,274.80" fill="none" stroke="#000" stroke-width="2.1" stroke-linejoin="round"/>
<circle cx="43.60" cy="288.41" r="3.50" fill="none" stroke="#000" stroke-width="0.9"/>
<circle cx="64.28" cy="288.88" r="3.50" fill="none" stroke="#000" stroke-width="0.9"/>
<circle cx="84.95" cy="230.20" r="3.50" fill="none" stroke="#000" stroke-width="0.9"/>
<circle cx="105.62" cy="223.62" r="3.50" fill="none" stroke="#000" stroke-width="0.9"/>
<circle cx="126.30" cy="228.32" r="3.50" fill="none" stroke="#000" stroke-width="0.9"/>
<circle cx="146.97" cy="238.18" r="3.50" fill="none" stroke="#000" stroke-width="0.9"/>
<circle cx="167.65" cy="251.32" r="3.50" fill="none" stroke="#000" stroke-width="0.9"/>
<circle cx="188.32" cy="264.00" r="3.50" fill="none" stroke="#000" stroke-width="0.9"/>
<circle cx="209.00" cy="274.80" r="3.50" fill="none" stroke="#000" stroke-width="0.9"/>
<polyline points="278.30,288.41 299.03,288.41 319.75,288.41 340.48,288.41 361.20,288.41 381.93,288.41 402.65,288.41 423.38,288.41 444.10,288.41" fill="none" stroke="#000" stroke-width="2.1" stroke-linejoin="round"/>
<path d="M319.75 220.81V227.38M317.75 220.81h4M317.75 227.38h4" stroke="#000" stroke-width="0.9" fill="none"/>
<path d="M340.48 218.93V230.67M338.48 218.93h4M338.48 230.67h4" stroke="#000" stroke-width="0.9" fill="none"/>
<path d="M361.20 228.32V240.06M359.20 228.32h4M359.20 240.06h4" stroke="#000" stroke-width="0.9" fill="none"/>
<path d="M381.93 238.41V249.21M379.93 238.41h4M379.93 249.21h4" stroke="#000" stroke-width="0.9" fill="none"/>
<path d="M402.65 243.11V254.84M400.65 243.11h4M400.65 254.84h4" stroke="#000" stroke-width="0.9" fill="none"/>
<path d="M423.38 246.39V256.72M421.38 246.39h4M421.38 256.72h4" stroke="#000" stroke-width="0.9" fill="none"/>
<path d="M444.10 247.33V257.66M442.10 247.33h4M442.10 257.66h4" stroke="#000" stroke-width="0.9" fill="none"/>
<polyline points="278.30,288.41 299.03,288.88 319.75,227.38 340.48,230.67 361.20,240.06 381.93,249.21 402.65,254.84 423.38,256.72 444.10,257.66" fill="none" stroke="#000" stroke-width="2.1" stroke-linejoin="round"/>
<rect x="274.50" y="284.61" width="7.60" height="7.60" fill="#000"/>
<rect x="295.23" y="285.08" width="7.60" height="7.60" fill="#000"/>
<rect x="315.95" y="223.58" width="7.60" height="7.60" fill="#000"/>
<rect x="336.68" y="226.87" width="7.60" height="7.60" fill="#000"/>
<rect x="357.40" y="236.25" width="7.60" height="7.60" fill="#000"/>
<rect x="378.12" y="245.41" width="7.60" height="7.60" fill="#000"/>
<rect x="398.85" y="251.04" width="7.60" height="7.60" fill="#000"/>
<rect x="419.57" y="252.92" width="7.60" height="7.60" fill="#000"/>
<rect x="440.30" y="253.86" width="7.60" height="7.60" fill="#000"/>
<polyline points="278.30,288.41 299.03,288.88 319.75,259.77 340.48,246.63 361.20,250.38 381.93,256.49 402.65,261.65 423.38,265.88 444.10,267.76" fill="none" stroke="#000" stroke-width="2.1" stroke-linejoin="round"/>
<path d="M278.30 284.31L282.00 288.41L278.30 292.51L274.60 288.41Z" fill="#000"/>
<path d="M299.03 284.78L302.73 288.88L299.03 292.98L295.33 288.88Z" fill="#000"/>
<path d="M319.75 255.67L323.45 259.77L319.75 263.87L316.05 259.77Z" fill="#000"/>
<path d="M340.48 242.53L344.18 246.63L340.48 250.73L336.78 246.63Z" fill="#000"/>
<path d="M361.20 246.28L364.90 250.38L361.20 254.48L357.50 250.38Z" fill="#000"/>
<path d="M381.93 252.39L385.62 256.49L381.93 260.59L378.23 256.49Z" fill="#000"/>
<path d="M402.65 257.55L406.35 261.65L402.65 265.75L398.95 261.65Z" fill="#000"/>
<path d="M423.38 261.78L427.07 265.88L423.38 269.98L419.68 265.88Z" fill="#000"/>
<path d="M444.10 263.66L447.80 267.76L444.10 271.86L440.40 267.76Z" fill="#000"/>
<polyline points="278.30,288.41 299.03,288.88 319.75,285.60 340.48,286.07 361.20,286.30 381.93,286.39 402.65,286.39 423.38,286.39 444.10,286.39" fill="none" stroke="#000" stroke-width="2.1" stroke-linejoin="round"/>
<path d="M278.30 284.21L282.10 292.01L274.50 292.01Z" fill="#000"/>
<path d="M299.03 284.68L302.83 292.48L295.23 292.48Z" fill="#000"/>
<path d="M319.75 281.40L323.55 289.20L315.95 289.20Z" fill="#000"/>
<path d="M340.48 281.87L344.28 289.67L336.68 289.67Z" fill="#000"/>
<path d="M361.20 282.10L365.00 289.90L357.40 289.90Z" fill="#000"/>
<path d="M381.93 282.19L385.73 289.99L378.12 289.99Z" fill="#000"/>
<path d="M402.65 282.19L406.45 289.99L398.85 289.99Z" fill="#000"/>
<path d="M423.38 282.19L427.18 289.99L419.57 289.99Z" fill="#000"/>
<path d="M444.10 282.19L447.90 289.99L440.30 289.99Z" fill="#000"/>
<polyline points="278.30,288.41 299.03,288.88 319.75,287.94 340.48,288.18 361.20,288.18 381.93,288.18 402.65,288.18 423.38,288.18 444.10,288.18" fill="none" stroke="#000" stroke-width="2.1" stroke-linejoin="round"/>
<circle cx="278.30" cy="288.41" r="3.90" fill="#000"/>
<circle cx="299.03" cy="288.88" r="3.90" fill="#000"/>
<circle cx="319.75" cy="287.94" r="3.90" fill="#000"/>
<circle cx="340.48" cy="288.18" r="3.90" fill="#000"/>
<circle cx="361.20" cy="288.18" r="3.90" fill="#000"/>
<circle cx="381.93" cy="288.18" r="3.90" fill="#000"/>
<circle cx="402.65" cy="288.18" r="3.90" fill="#000"/>
<circle cx="423.38" cy="288.18" r="3.90" fill="#000"/>
<circle cx="444.10" cy="288.18" r="3.90" fill="#000"/>
<path d="M319.75 249.91V257.43M317.75 249.91h4M317.75 257.43h4" stroke="#000" stroke-width="0.9" fill="none"/>
<path d="M340.48 237.24V242.87M338.48 237.24h4M338.48 242.87h4" stroke="#000" stroke-width="0.9" fill="none"/>
<polyline points="278.30,288.41 299.03,288.88 319.75,253.67 340.48,240.06 361.20,252.26 381.93,257.90 402.65,263.06 423.38,265.88 444.10,269.16" fill="none" stroke="#000" stroke-width="2.1" stroke-linejoin="round"/>
<rect x="274.80" y="284.91" width="7.00" height="7.00" fill="none" stroke="#000" stroke-width="0.9"/>
<rect x="295.53" y="285.38" width="7.00" height="7.00" fill="none" stroke="#000" stroke-width="0.9"/>
<rect x="316.25" y="250.17" width="7.00" height="7.00" fill="none" stroke="#000" stroke-width="0.9"/>
<rect x="336.98" y="236.56" width="7.00" height="7.00" fill="none" stroke="#000" stroke-width="0.9"/>
<rect x="357.70" y="248.76" width="7.00" height="7.00" fill="none" stroke="#000" stroke-width="0.9"/>
<rect x="378.43" y="254.40" width="7.00" height="7.00" fill="none" stroke="#000" stroke-width="0.9"/>
<rect x="399.15" y="259.56" width="7.00" height="7.00" fill="none" stroke="#000" stroke-width="0.9"/>
<rect x="419.88" y="262.38" width="7.00" height="7.00" fill="none" stroke="#000" stroke-width="0.9"/>
<rect x="440.60" y="265.66" width="7.00" height="7.00" fill="none" stroke="#000" stroke-width="0.9"/>
<path d="M340.48 259.77V262.59M338.48 259.77h4M338.48 262.59h4" stroke="#000" stroke-width="0.9" fill="none"/>
<path d="M361.20 259.77V262.59M359.20 259.77h4M359.20 262.59h4" stroke="#000" stroke-width="0.9" fill="none"/>
<polyline points="278.30,288.41 299.03,288.88 319.75,266.35 340.48,261.18 361.20,261.18 381.93,262.12 402.65,263.06 423.38,264.47 444.10,265.88" fill="none" stroke="#000" stroke-width="2.1" stroke-linejoin="round"/>
<path d="M278.30 284.51L281.50 288.41L278.30 292.31L275.10 288.41Z" fill="none" stroke="#000" stroke-width="0.9"/>
<path d="M299.03 284.98L302.23 288.88L299.03 292.78L295.83 288.88Z" fill="none" stroke="#000" stroke-width="0.9"/>
<path d="M319.75 262.45L322.95 266.35L319.75 270.25L316.55 266.35Z" fill="none" stroke="#000" stroke-width="0.9"/>
<path d="M340.48 257.28L343.68 261.18L340.48 265.08L337.28 261.18Z" fill="none" stroke="#000" stroke-width="0.9"/>
<path d="M361.20 257.28L364.40 261.18L361.20 265.08L358.00 261.18Z" fill="none" stroke="#000" stroke-width="0.9"/>
<path d="M381.93 258.22L385.12 262.12L381.93 266.02L378.73 262.12Z" fill="none" stroke="#000" stroke-width="0.9"/>
<path d="M402.65 259.16L405.85 263.06L402.65 266.96L399.45 263.06Z" fill="none" stroke="#000" stroke-width="0.9"/>
<path d="M423.38 260.57L426.57 264.47L423.38 268.37L420.18 264.47Z" fill="none" stroke="#000" stroke-width="0.9"/>
<path d="M444.10 261.98L447.30 265.88L444.10 269.78L440.90 265.88Z" fill="none" stroke="#000" stroke-width="0.9"/>
<path d="M340.48 273.86V282.31M338.48 273.86h4M338.48 282.31h4" stroke="#000" stroke-width="0.9" fill="none"/>
<path d="M361.20 274.33V282.78M359.20 274.33h4M359.20 282.78h4" stroke="#000" stroke-width="0.9" fill="none"/>
<path d="M381.93 274.33V282.78M379.93 274.33h4M379.93 282.78h4" stroke="#000" stroke-width="0.9" fill="none"/>
<path d="M402.65 274.80V282.31M400.65 274.80h4M400.65 282.31h4" stroke="#000" stroke-width="0.9" fill="none"/>
<path d="M423.38 275.74V283.25M421.38 275.74h4M421.38 283.25h4" stroke="#000" stroke-width="0.9" fill="none"/>
<path d="M444.10 276.68V284.19M442.10 276.68h4M442.10 284.19h4" stroke="#000" stroke-width="0.9" fill="none"/>
<polyline points="278.30,288.41 299.03,288.88 319.75,275.74 340.48,278.08 361.20,278.55 381.93,278.55 402.65,278.55 423.38,279.49 444.10,280.43" fill="none" stroke="#000" stroke-width="2.1" stroke-linejoin="round"/>
<path d="M278.30 284.61L281.90 291.71L274.70 291.71Z" fill="none" stroke="#000" stroke-width="0.9"/>
<path d="M299.03 285.08L302.63 292.18L295.43 292.18Z" fill="none" stroke="#000" stroke-width="0.9"/>
<path d="M319.75 271.94L323.35 279.04L316.15 279.04Z" fill="none" stroke="#000" stroke-width="0.9"/>
<path d="M340.48 274.28L344.08 281.38L336.88 281.38Z" fill="none" stroke="#000" stroke-width="0.9"/>
<path d="M361.20 274.75L364.80 281.85L357.60 281.85Z" fill="none" stroke="#000" stroke-width="0.9"/>
<path d="M381.93 274.75L385.53 281.85L378.32 281.85Z" fill="none" stroke="#000" stroke-width="0.9"/>
<path d="M402.65 274.75L406.25 281.85L399.05 281.85Z" fill="none" stroke="#000" stroke-width="0.9"/>
<path d="M423.38 275.69L426.98 282.79L419.77 282.79Z" fill="none" stroke="#000" stroke-width="0.9"/>
<path d="M444.10 276.63L447.70 283.73L440.50 283.73Z" fill="none" stroke="#000" stroke-width="0.9"/>
<path d="M444.10 268.23V273.86M442.10 268.23h4M442.10 273.86h4" stroke="#000" stroke-width="0.9" fill="none"/>
<polyline points="278.30,288.41 299.03,288.88 319.75,233.01 340.48,238.18 361.20,237.71 381.93,248.04 402.65,256.49 423.38,264.47 444.10,271.04" fill="none" stroke="#000" stroke-width="2.1" stroke-linejoin="round"/>
<circle cx="278.30" cy="288.41" r="3.50" fill="none" stroke="#000" stroke-width="0.9"/>
<circle cx="299.03" cy="288.88" r="3.50" fill="none" stroke="#000" stroke-width="0.9"/>
<circle cx="319.75" cy="233.01" r="3.50" fill="none" stroke="#000" stroke-width="0.9"/>
<circle cx="340.48" cy="238.18" r="3.50" fill="none" stroke="#000" stroke-width="0.9"/>
<circle cx="361.20" cy="237.71" r="3.50" fill="none" stroke="#000" stroke-width="0.9"/>
<circle cx="381.93" cy="248.04" r="3.50" fill="none" stroke="#000" stroke-width="0.9"/>
<circle cx="402.65" cy="256.49" r="3.50" fill="none" stroke="#000" stroke-width="0.9"/>
<circle cx="423.38" cy="264.47" r="3.50" fill="none" stroke="#000" stroke-width="0.9"/>
<circle cx="444.10" cy="271.04" r="3.50" fill="none" stroke="#000" stroke-width="0.9"/>
<polyline points="511.30,288.41 531.95,288.41 552.60,288.41 573.25,288.41 593.90,288.41 614.55,288.41 635.20,288.41 655.85,288.41 676.50,288.41" fill="none" stroke="#000" stroke-width="2.1" stroke-linejoin="round"/>
<path d="M573.25 217.75V229.49M571.25 217.75h4M571.25 229.49h4" stroke="#000" stroke-width="0.9" fill="none"/>
<path d="M593.90 230.20V238.65M591.90 230.20h4M591.90 238.65h4" stroke="#000" stroke-width="0.9" fill="none"/>
<path d="M655.85 241.46V253.20M653.85 241.46h4M653.85 253.20h4" stroke="#000" stroke-width="0.9" fill="none"/>
<path d="M676.50 243.34V253.20M674.50 243.34h4M674.50 253.20h4" stroke="#000" stroke-width="0.9" fill="none"/>
<polyline points="511.30,288.41 531.95,288.88 552.60,227.38 573.25,229.49 593.90,238.65 614.55,244.75 635.20,249.44 655.85,253.20 676.50,253.20" fill="none" stroke="#000" stroke-width="2.1" stroke-linejoin="round"/>
<rect x="507.50" y="284.61" width="7.60" height="7.60" fill="#000"/>
<rect x="528.15" y="285.08" width="7.60" height="7.60" fill="#000"/>
<rect x="548.80" y="223.58" width="7.60" height="7.60" fill="#000"/>
<rect x="569.45" y="225.69" width="7.60" height="7.60" fill="#000"/>
<rect x="590.10" y="234.85" width="7.60" height="7.60" fill="#000"/>
<rect x="610.75" y="240.95" width="7.60" height="7.60" fill="#000"/>
<rect x="631.40" y="245.64" width="7.60" height="7.60" fill="#000"/>
<rect x="652.05" y="249.40" width="7.60" height="7.60" fill="#000"/>
<rect x="672.70" y="249.40" width="7.60" height="7.60" fill="#000"/>
<polyline points="511.30,288.41 531.95,288.88 552.60,243.81 573.25,238.65 593.90,247.57 614.55,254.14 635.20,254.61 655.85,255.55 676.50,257.90" fill="none" stroke="#000" stroke-width="2.1" stroke-linejoin="round"/>
<path d="M511.30 284.31L515.00 288.41L511.30 292.51L507.60 288.41Z" fill="#000"/>
<path d="M531.95 284.78L535.65 288.88L531.95 292.98L528.25 288.88Z" fill="#000"/>
<path d="M552.60 239.71L556.30 243.81L552.60 247.91L548.90 243.81Z" fill="#000"/>
<path d="M573.25 234.55L576.95 238.65L573.25 242.75L569.55 238.65Z" fill="#000"/>
<path d="M593.90 243.47L597.60 247.57L593.90 251.67L590.20 247.57Z" fill="#000"/>
<path d="M614.55 250.04L618.25 254.14L614.55 258.24L610.85 254.14Z" fill="#000"/>
<path d="M635.20 250.51L638.90 254.61L635.20 258.71L631.50 254.61Z" fill="#000"/>
<path d="M655.85 251.45L659.55 255.55L655.85 259.65L652.15 255.55Z" fill="#000"/>
<path d="M676.50 253.80L680.20 257.90L676.50 262.00L672.80 257.90Z" fill="#000"/>
<polyline points="511.30,288.41 531.95,288.88 552.60,283.25 573.25,284.19 593.90,284.19 614.55,284.42 635.20,284.42 655.85,284.42 676.50,284.42" fill="none" stroke="#000" stroke-width="2.1" stroke-linejoin="round"/>
<path d="M511.30 284.21L515.10 292.01L507.50 292.01Z" fill="#000"/>
<path d="M531.95 284.68L535.75 292.48L528.15 292.48Z" fill="#000"/>
<path d="M552.60 279.05L556.40 286.85L548.80 286.85Z" fill="#000"/>
<path d="M573.25 279.99L577.05 287.79L569.45 287.79Z" fill="#000"/>
<path d="M593.90 279.99L597.70 287.79L590.10 287.79Z" fill="#000"/>
<path d="M614.55 280.22L618.35 288.02L610.75 288.02Z" fill="#000"/>
<path d="M635.20 280.22L639.00 288.02L631.40 288.02Z" fill="#000"/>
<path d="M655.85 280.22L659.65 288.02L652.05 288.02Z" fill="#000"/>
<path d="M676.50 280.22L680.30 288.02L672.70 288.02Z" fill="#000"/>
<polyline points="511.30,288.41 531.95,288.88 552.60,287.47 573.25,287.57 593.90,287.57 614.55,287.57 635.20,287.57 655.85,287.57 676.50,287.57" fill="none" stroke="#000" stroke-width="2.1" stroke-linejoin="round"/>
<circle cx="511.30" cy="288.41" r="3.90" fill="#000"/>
<circle cx="531.95" cy="288.88" r="3.90" fill="#000"/>
<circle cx="552.60" cy="287.47" r="3.90" fill="#000"/>
<circle cx="573.25" cy="287.57" r="3.90" fill="#000"/>
<circle cx="593.90" cy="287.57" r="3.90" fill="#000"/>
<circle cx="614.55" cy="287.57" r="3.90" fill="#000"/>
<circle cx="635.20" cy="287.57" r="3.90" fill="#000"/>
<circle cx="655.85" cy="287.57" r="3.90" fill="#000"/>
<circle cx="676.50" cy="287.57" r="3.90" fill="#000"/>
<path d="M552.60 237.24V242.87M550.60 237.24h4M550.60 242.87h4" stroke="#000" stroke-width="0.9" fill="none"/>
<polyline points="511.30,288.41 531.95,288.88 552.60,240.06 573.25,234.42 593.90,245.22 614.55,252.26 635.20,258.08 655.85,261.18 676.50,265.41" fill="none" stroke="#000" stroke-width="2.1" stroke-linejoin="round"/>
<rect x="507.80" y="284.91" width="7.00" height="7.00" fill="none" stroke="#000" stroke-width="0.9"/>
<rect x="528.45" y="285.38" width="7.00" height="7.00" fill="none" stroke="#000" stroke-width="0.9"/>
<rect x="549.10" y="236.56" width="7.00" height="7.00" fill="none" stroke="#000" stroke-width="0.9"/>
<rect x="569.75" y="230.92" width="7.00" height="7.00" fill="none" stroke="#000" stroke-width="0.9"/>
<rect x="590.40" y="241.72" width="7.00" height="7.00" fill="none" stroke="#000" stroke-width="0.9"/>
<rect x="611.05" y="248.76" width="7.00" height="7.00" fill="none" stroke="#000" stroke-width="0.9"/>
<rect x="631.70" y="254.58" width="7.00" height="7.00" fill="none" stroke="#000" stroke-width="0.9"/>
<rect x="652.35" y="257.68" width="7.00" height="7.00" fill="none" stroke="#000" stroke-width="0.9"/>
<rect x="673.00" y="261.91" width="7.00" height="7.00" fill="none" stroke="#000" stroke-width="0.9"/>
<path d="M552.60 253.20V257.90M550.60 253.20h4M550.60 257.90h4" stroke="#000" stroke-width="0.9" fill="none"/>
<path d="M573.25 245.69V249.44M571.25 245.69h4M571.25 249.44h4" stroke="#000" stroke-width="0.9" fill="none"/>
<polyline points="511.30,288.41 531.95,288.88 552.60,255.55 573.25,247.57 593.90,249.44 614.55,257.43 635.20,262.12 655.85,264.94 676.50,268.69" fill="none" stroke="#000" stroke-width="2.1" stroke-linejoin="round"/>
<path d="M511.30 284.51L514.50 288.41L511.30 292.31L508.10 288.41Z" fill="none" stroke="#000" stroke-width="0.9"/>
<path d="M531.95 284.98L535.15 288.88L531.95 292.78L528.75 288.88Z" fill="none" stroke="#000" stroke-width="0.9"/>
<path d="M552.60 251.65L555.80 255.55L552.60 259.45L549.40 255.55Z" fill="none" stroke="#000" stroke-width="0.9"/>
<path d="M573.25 243.67L576.45 247.57L573.25 251.47L570.05 247.57Z" fill="none" stroke="#000" stroke-width="0.9"/>
<path d="M593.90 245.54L597.10 249.44L593.90 253.34L590.70 249.44Z" fill="none" stroke="#000" stroke-width="0.9"/>
<path d="M614.55 253.53L617.75 257.43L614.55 261.33L611.35 257.43Z" fill="none" stroke="#000" stroke-width="0.9"/>
<path d="M635.20 258.22L638.40 262.12L635.20 266.02L632.00 262.12Z" fill="none" stroke="#000" stroke-width="0.9"/>
<path d="M655.85 261.04L659.05 264.94L655.85 268.84L652.65 264.94Z" fill="none" stroke="#000" stroke-width="0.9"/>
<path d="M676.50 264.79L679.70 268.69L676.50 272.59L673.30 268.69Z" fill="none" stroke="#000" stroke-width="0.9"/>
<path d="M573.25 258.83V276.68M571.25 258.83h4M571.25 276.68h4" stroke="#000" stroke-width="0.9" fill="none"/>
<path d="M593.90 258.37V276.21M591.90 258.37h4M591.90 276.21h4" stroke="#000" stroke-width="0.9" fill="none"/>
<path d="M614.55 268.23V275.74M612.55 268.23h4M612.55 275.74h4" stroke="#000" stroke-width="0.9" fill="none"/>
<path d="M635.20 269.63V277.15M633.20 269.63h4M633.20 277.15h4" stroke="#000" stroke-width="0.9" fill="none"/>
<path d="M655.85 271.04V278.55M653.85 271.04h4M653.85 278.55h4" stroke="#000" stroke-width="0.9" fill="none"/>
<path d="M676.50 274.80V280.43M674.50 274.80h4M674.50 280.43h4" stroke="#000" stroke-width="0.9" fill="none"/>
<polyline points="511.30,288.41 531.95,288.88 552.60,271.04 573.25,268.23 593.90,267.29 614.55,271.98 635.20,273.39 655.85,274.80 676.50,277.62" fill="none" stroke="#000" stroke-width="2.1" stroke-linejoin="round"/>
<path d="M511.30 284.61L514.90 291.71L507.70 291.71Z" fill="none" stroke="#000" stroke-width="0.9"/>
<path d="M531.95 285.08L535.55 292.18L528.35 292.18Z" fill="none" stroke="#000" stroke-width="0.9"/>
<path d="M552.60 267.24L556.20 274.34L549.00 274.34Z" fill="none" stroke="#000" stroke-width="0.9"/>
<path d="M573.25 264.43L576.85 271.53L569.65 271.53Z" fill="none" stroke="#000" stroke-width="0.9"/>
<path d="M593.90 263.49L597.50 270.59L590.30 270.59Z" fill="none" stroke="#000" stroke-width="0.9"/>
<path d="M614.55 268.18L618.15 275.28L610.95 275.28Z" fill="none" stroke="#000" stroke-width="0.9"/>
<path d="M635.20 269.59L638.80 276.69L631.60 276.69Z" fill="none" stroke="#000" stroke-width="0.9"/>
<path d="M655.85 271.00L659.45 278.10L652.25 278.10Z" fill="none" stroke="#000" stroke-width="0.9"/>
<path d="M676.50 273.81L680.10 280.92L672.90 280.92Z" fill="none" stroke="#000" stroke-width="0.9"/>
<path d="M573.25 217.99V233.01M571.25 217.99h4M571.25 233.01h4" stroke="#000" stroke-width="0.9" fill="none"/>
<path d="M593.90 225.97V242.87M591.90 225.97h4M591.90 242.87h4" stroke="#000" stroke-width="0.9" fill="none"/>
<path d="M614.55 220.81V241.46M612.55 220.81h4M612.55 241.46h4" stroke="#000" stroke-width="0.9" fill="none"/>
<path d="M635.20 212.59V238.88M633.20 212.59h4M633.20 238.88h4" stroke="#000" stroke-width="0.9" fill="none"/>
<path d="M655.85 204.84V243.34M653.85 204.84h4M653.85 243.34h4" stroke="#000" stroke-width="0.9" fill="none"/>
<path d="M676.50 200.62V225.97M674.50 200.62h4M674.50 225.97h4" stroke="#000" stroke-width="0.9" fill="none"/>
<polyline points="511.30,288.41 531.95,288.88 552.60,231.60 573.25,233.01 593.90,234.42 614.55,231.13 635.20,225.74 655.85,223.62 676.50,213.76" fill="none" stroke="#000" stroke-width="2.1" stroke-linejoin="round"/>
<circle cx="511.30" cy="288.41" r="3.50" fill="none" stroke="#000" stroke-width="0.9"/>
<circle cx="531.95" cy="288.88" r="3.50" fill="none" stroke="#000" stroke-width="0.9"/>
<circle cx="552.60" cy="231.60" r="3.50" fill="none" stroke="#000" stroke-width="0.9"/>
<circle cx="573.25" cy="233.01" r="3.50" fill="none" stroke="#000" stroke-width="0.9"/>
<circle cx="593.90" cy="234.42" r="3.50" fill="none" stroke="#000" stroke-width="0.9"/>
<circle cx="614.55" cy="231.13" r="3.50" fill="none" stroke="#000" stroke-width="0.9"/>
<circle cx="635.20" cy="225.74" r="3.50" fill="none" stroke="#000" stroke-width="0.9"/>
<circle cx="655.85" cy="223.62" r="3.50" fill="none" stroke="#000" stroke-width="0.9"/>
<circle cx="676.50" cy="213.76" r="3.50" fill="none" stroke="#000" stroke-width="0.9"/>
<line x1="115.2" y1="353.5" x2="131.2" y2="353.5" stroke="#000" stroke-width="2.1"/>
<text x="133.0" y="357.6" class="lg">Control</text>
<line x1="186.8" y1="353.5" x2="202.8" y2="353.5" stroke="#000" stroke-width="2.1"/>
<rect x="191.00" y="349.70" width="7.60" height="7.60" fill="#000"/>
<text x="203.4" y="357.6" class="lg">P5</text>
<line x1="228.1" y1="353.5" x2="244.1" y2="353.5" stroke="#000" stroke-width="2.1"/>
<path d="M236.10 349.40L239.80 353.50L236.10 357.60L232.40 353.50Z" fill="#000"/>
<text x="245.3" y="357.6" class="lg">CT1</text>
<line x1="279.6" y1="353.5" x2="295.6" y2="353.5" stroke="#000" stroke-width="2.1"/>
<path d="M287.60 349.30L291.40 357.10L283.80 357.10Z" fill="#000"/>
<text x="296.9" y="357.6" class="lg">CT2</text>
<line x1="332.2" y1="353.5" x2="348.2" y2="353.5" stroke="#000" stroke-width="2.1"/>
<circle cx="340.20" cy="353.50" r="3.90" fill="#000"/>
<text x="349.2" y="357.6" class="lg">CT3</text>
<line x1="383.1" y1="353.5" x2="399.1" y2="353.5" stroke="#000" stroke-width="2.1"/>
<rect x="387.60" y="350.00" width="7.00" height="7.00" fill="none" stroke="#000" stroke-width="0.9"/>
<text x="400.8" y="357.6" class="lg">NT1</text>
<line x1="435.3" y1="353.5" x2="451.3" y2="353.5" stroke="#000" stroke-width="2.1"/>
<path d="M443.30 349.60L446.50 353.50L443.30 357.40L440.10 353.50Z" fill="none" stroke="#000" stroke-width="0.9"/>
<text x="451.9" y="357.6" class="lg">NT2</text>
<line x1="486.9" y1="353.5" x2="502.9" y2="353.5" stroke="#000" stroke-width="2.1"/>
<path d="M494.90 349.70L498.50 356.80L491.30 356.80Z" fill="none" stroke="#000" stroke-width="0.9"/>
<text x="503.6" y="357.6" class="lg">NT3</text>
<line x1="539.5" y1="353.5" x2="555.5" y2="353.5" stroke="#000" stroke-width="2.1"/>
<circle cx="547.50" cy="353.50" r="3.50" fill="none" stroke="#000" stroke-width="0.9"/>
<text x="555.8" y="357.6" class="lg">Melittin</text>
</svg></body></html>
